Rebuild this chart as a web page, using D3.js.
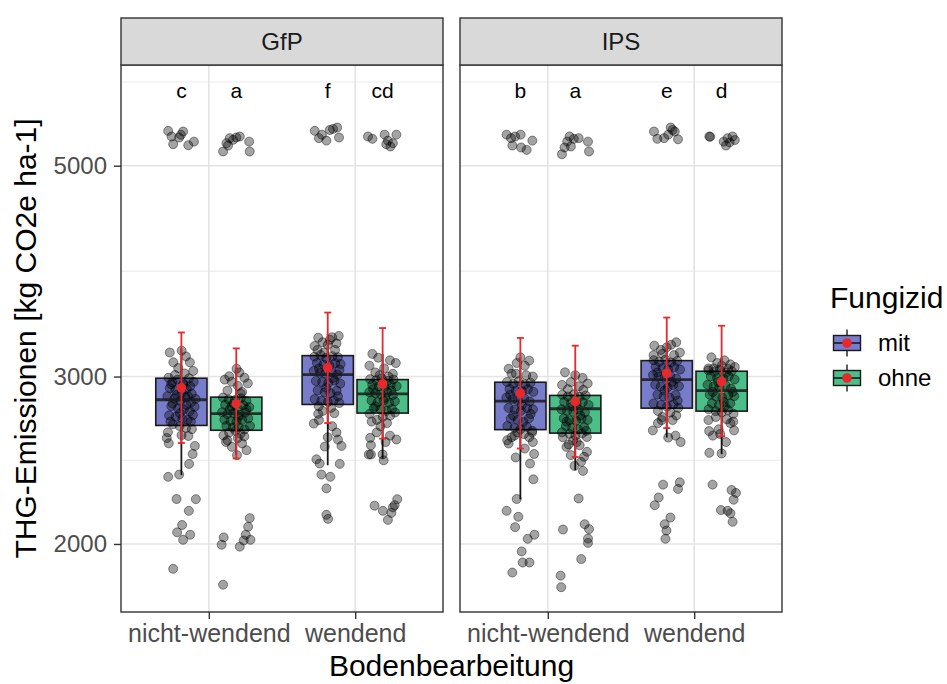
<!DOCTYPE html>
<html><head><meta charset="utf-8">
<script src="https://cdn.jsdelivr.net/npm/d3@7/dist/d3.min.js"></script>
<style>body{margin:0;background:#fff;} text{font-family:"Liberation Sans",Arial,sans-serif;}</style>
</head><body><svg id="chart" width="947" height="684"></svg>
<script>
// ---------- data ----------
const facets = ["GfP", "IPS"];
const tillage = ["nicht-wendend", "wendend"];
const fungicide = ["mit", "ohne"];
const lettersGfP = ["c", "a", "f", "cd"];
const lettersIPS = ["b", "a", "e", "d"];
const yTickValues = [2000, 3000, 5000];
const yBreaks = [2000, 3000, 5000, 7500];
const yDomain = [1696, 6381];
const letterY = 6000;
// group order: GfP/nw/mit, GfP/nw/ohne, GfP/w/mit, GfP/w/ohne, IPS/nw/mit, IPS/nw/ohne, IPS/w/mit, IPS/w/ohne
const q1 =          [2665, 2634, 2804, 2746, 2638, 2616, 2779, 2759];
const median =      [2836, 2742, 3014, 2877, 2826, 2775, 2978, 2900];
const q3 =          [2988, 2854, 3156, 2978, 2959, 2866, 3118, 3039];
const whiskerLow =  [2363, 2480, 2420, 2460, 2228, 2391, 2588, 2486];
const whiskerHigh = [3210, 3068, 3328, 3169, 3143, 3031, 3246, 3143];
const meanVal =     [2919, 2809, 3064, 2948, 2881, 2824, 3024, 2964];
const errLow =      [2554, 2460, 2680, 2581, 2520, 2469, 2648, 2596];
const errHigh =     [3338, 3212, 3503, 3374, 3294, 3233, 3461, 3393];

// jittered observations: [jitter (-1..1), value]
const ptsGfpNwMit = [[-0.9,5440],[-0.67,5366],[-0.56,5267],[-0.15,5353],[0.12,5431],[0.47,5254],[0.86,5300],[-0.03,5389],
[-0.9,2353],[-0.15,2366],[-0.33,2230],[0.99,2229],[0.51,2167],[0.05,2094],[-0.29,2057],[0.12,2020],[0.6,2045],[-0.56,1883],[0.53,2428],[0.77,2487],[0.92,2536],[-0.86,2552],[-1.0,2585],
[-0.79,3180],[0.02,3194],[0.58,3105],[-0.55,3105],[0.31,3150],[-0.22,3062],[0.81,3041],
[-0.88,2991],[-0.62,2958],[-0.27,2977],[0.13,2948],[0.52,2987],[0.84,2962],[-0.79,2917],[-0.41,2903],[0.03,2886],[0.37,2912],[0.71,2878],[-0.96,2861],[-0.48,2843],[-0.08,2829],[0.28,2852],[0.66,2818],[0.97,2842],[-0.69,2793],[-0.23,2778],[0.17,2771],[0.57,2758],[0.91,2788],[-0.84,2731],[-0.37,2722],[0.07,2708],[0.43,2701],[0.79,2733],[-0.58,2672],[-0.12,2661],[0.32,2649],[0.72,2641],[-0.92,2621],[0.01,2603],[0.48,2598],[-0.44,3011],[0.22,3023],
[-0.7,2945],[0.6,2930],[-0.3,2870],[0.45,2860],[-0.6,2810],[0.35,2800],[-0.1,2745],[0.65,2690],[-0.75,2690],[0.15,2940]];
const ptsGfpNwOhne = [[-0.9,5175],[-0.67,5280],[-0.45,5345],[-0.22,5323],[0,5353],[0.24,5366],[0.88,5300],[0.92,5175],[-0.56,5250],
[-0.86,2032],[-1.0,1996],[0.24,1987],[0.65,2045],[0.81,2085],[0.92,2129],[0.97,2020],[-0.9,1812],[0.51,2017],[-0.6,2571],[-0.3,2530],[0.4,2551],[0.1,2585],[0.7,2510],[0.05,2480],
[-0.79,2978],[0.02,3057],[0.21,3030],[-0.48,3002],[0.56,2991],[-0.31,2962],[0.79,2951],[0.11,2933],
[-0.91,2851],[-0.52,2838],[-0.09,2834],[0.31,2846],[0.69,2829],[-0.76,2802],[-0.33,2789],[0.06,2781],[0.47,2799],[0.89,2786],[-0.97,2752],[-0.61,2739],[-0.18,2746],[0.22,2734],[0.62,2751],[-0.81,2702],[-0.39,2694],[0.02,2689],[0.41,2701],[0.82,2711],[-0.68,2661],[-0.24,2651],[0.16,2654],[0.56,2639],[0.94,2662],[-0.49,2619],[0.29,2611],[-0.88,2601],
[-0.6,2900],[0.4,2890],[-0.2,2810],[0.7,2770],[-0.45,2770],[0.15,2720],[-0.05,2630],[0.55,2595],[-0.7,2560],[0.3,2880]];
const ptsGfpWMit = [[-0.89,5440],[-0.6,5345],[-0.4,5390],[-0.09,5313],[0.14,5452],[0.36,5466],[0.64,5484],[0.77,5353],
[-0.77,2455],[-0.55,2430],[0.82,2428],[-0.43,2366],[0.18,2353],[-0.09,2288],[-0.09,2146],[0.02,2125],[0.94,2536],[0.7,2575],[-0.2,2532],[-0.95,2677],[-0.65,2741],[0.3,2660],[0.6,2620],[-0.6,2700],[0.0,2590],
[-0.65,3296],[0.75,3310],[0.15,3280],[-0.35,3260],[0.6,3250],[-0.9,3230],[0.3,3300],[0.0,3240],
[-0.91,3148],[-0.49,3161],[-0.11,3138],[0.32,3152],[0.69,3144],[-0.74,3101],[-0.29,3088],[0.12,3081],[0.51,3099],[0.88,3092],[-0.96,3041],[-0.53,3028],[-0.16,3021],[0.26,3032],[0.66,3014],[-0.81,2968],[-0.38,2961],[0.04,2954],[0.46,2971],[0.86,2949],[-0.69,2902],[-0.21,2888],[0.19,2882],[0.61,2899],[-0.89,2841],[-0.44,2829],[0.01,2821],[0.41,2832],[0.79,2814],[-0.61,2791],[0.24,2781],
[-0.7,3200],[0.5,3200],[-0.25,3180],[0.8,3050],[-0.6,3060],[0.35,2990],[-0.1,2920],[0.7,2860],[-0.35,2760],[0.45,2745]];
const ptsGfpWOhne = [[-1.0,5366],[-0.7,5336],[0.14,5390],[0.36,5313],[0.7,5280],[0.94,5390],[0.53,5238],[0.25,5267],
[-0.55,2194],[0.02,2167],[0.36,2120],[0.6,2156],[0.82,2197],[1.0,2229],[0.7,2185],[-0.94,2484],[-0.8,2484],[0.07,2449],[0,2484],[0.94,2576],[-0.8,2540],[-0.85,2586],[-0.4,2620],[0.5,2600],[0.2,2560],
[-0.7,3169],[-0.3,3140],[0.5,3120],[0.9,3100],[-0.9,3080],[0.1,3060],[-0.5,3030],[0.7,3020],
[-0.86,2981],[-0.44,2974],[-0.06,2986],[0.36,2968],[0.74,2979],[-0.71,2941],[-0.26,2929],[0.14,2926],[0.56,2939],[0.96,2931],[-0.91,2889],[-0.49,2881],[-0.11,2874],[0.31,2886],[0.71,2869],[-0.76,2831],[-0.34,2819],[0.06,2829],[0.44,2816],[0.84,2826],[-0.61,2779],[-0.14,2771],[0.26,2761],[0.64,2774],[-0.89,2741],[0.01,2721],[0.51,2729],[-0.39,2701],
[-0.2,3010],[0.4,3000],[-0.65,2910],[0.6,2900],[0.2,2850],[-0.5,2790],[0.85,2750],[-0.75,2690],[0.3,2680],[-0.15,2660]];
const ptsIpsNwMit = [[-0.94,5390],[-0.64,5345],[-0.36,5366],[0.02,5390],[-0.55,5250],[0.05,5225],[0.43,5195],[0.82,5313],
[-0.32,2466],[0.94,2487],[0.66,2430],[0.89,2339],[-0.25,2230],[-0.94,2167],[-0.14,2136],[-0.36,2083],[0.5,2025],[0.96,2045],[0.09,1964],[0.16,1912],[0.62,1912],[-0.55,1866],[-0.8,2551],[-0.9,2571],[0.85,2560],[0.3,2520],[-0.4,2600],[0.6,2590],
[-0.8,3057],[0.6,3118],[0.0,3143],[-0.6,3020],[0.3,3080],[0.85,3000],[-0.25,3100],
[-0.91,2961],[-0.49,2948],[-0.11,2966],[0.31,2944],[0.69,2956],[-0.74,2911],[-0.31,2898],[0.11,2896],[0.51,2909],[0.89,2891],[-0.96,2851],[-0.54,2839],[-0.16,2831],[0.26,2846],[0.64,2824],[-0.81,2781],[-0.39,2769],[0.04,2761],[0.46,2779],[0.86,2771],[-0.66,2709],[-0.19,2701],[0.21,2689],[0.59,2711],[-0.89,2661],[-0.41,2649],[0.01,2641],[0.44,2656],[0.81,2631],
[-0.3,3020],[0.4,3010],[-0.7,2870],[0.1,2800],[0.7,2740],[-0.5,2730],[-0.2,2620],[0.25,2610],[0.8,2620],[-0.6,2590]];
const ptsIpsNwOhne = [[-0.91,5140],[-0.73,5225],[-0.55,5301],[-0.39,5366],[-0.1,5336],[0.23,5345],[0.87,5300],[0.94,5175],[-0.3,5238],
[0.23,2233],[-0.84,2071],[0.64,2098],[0.94,2073],[0.87,2026],[0.87,2005],[0.41,1928],[-1.0,1852],[-0.96,1801],[0.53,2387],[-0.05,2416],[0.4,2440],[-0.6,2530],[0.8,2500],[-0.3,2480],[0.1,2560],[-0.85,2590],
[-0.7,3031],[0.0,3010],[0.5,2990],[-0.3,2960],[0.85,2950],[-0.9,2940],[0.25,2930],
[-0.89,2871],[-0.51,2859],[-0.09,2874],[0.29,2856],[0.71,2866],[-0.76,2821],[-0.29,2814],[0.09,2806],[0.51,2819],[0.91,2801],[-0.94,2771],[-0.56,2761],[-0.14,2754],[0.24,2769],[0.66,2751],[-0.79,2711],[-0.41,2699],[0.06,2696],[0.44,2709],[0.84,2701],[-0.64,2661],[-0.21,2649],[0.19,2641],[0.61,2654],[-0.91,2621],[-0.39,2611],[0.01,2601],[0.46,2614],[0.79,2591],
[-0.5,2910],[0.55,2905],[-0.2,2790],[0.35,2730],[-0.6,2690],[0.75,2630],[-0.15,2570],[0.3,2540],[-0.45,2545],[0.6,2470]];
const ptsIpsWMit = [[-0.87,5431],[-0.64,5336],[-0.18,5345],[0.27,5484],[0.55,5431],[0.77,5330],[0.1,5390],[0.4,5452],
[-0.25,2309],[0.89,2322],[0.77,2285],[-0.55,2238],[-0.82,2197],[0.25,2132],[-0.14,2098],[-0.02,2066],[-0.09,2025],[-0.95,2633],[0.95,2560],[0.6,2600],[0.1,2588],[-0.6,2680],[0.4,2700],[-0.3,2720],
[-0.85,3233],[0.65,3260],[0.3,3240],[-0.4,3200],[0.9,3180],[-0.9,3160],[0.0,3220],
[-0.89,3121],[-0.51,3109],[-0.09,3126],[0.29,3104],[0.71,3116],[-0.76,3071],[-0.29,3061],[0.09,3054],[0.51,3069],[0.91,3051],[-0.94,3011],[-0.56,2999],[-0.14,2991],[0.24,3006],[0.66,2984],[-0.79,2941],[-0.41,2929],[0.06,2921],[0.44,2939],[0.84,2931],[-0.64,2871],[-0.21,2859],[0.19,2851],[0.61,2869],[-0.91,2811],[-0.39,2801],[0.01,2789],[0.46,2806],[0.79,2781],
[-0.3,3170],[0.5,3160],[-0.65,3030],[0.35,2960],[-0.15,2900],[0.75,2830],[-0.6,2760],[0.25,2750],[-0.35,2700],[0.65,2730]];
const ptsIpsWOhne = [[-0.84,5366],[-0.78,5362],[0.14,5300],[0.41,5345],[0.75,5366],[0.3,5250],[0.9,5320],[0.55,5290],
[-0.62,2309],[0.68,2279],[0.98,2263],[0.82,2226],[-0.05,2171],[0.41,2167],[0.6,2154],[0.75,2110],[0.0,2490],[-0.84,2494],[-0.85,2629],[0.85,2633],[-0.6,2600],[0.3,2560],[-0.2,2640],[0.6,2680],[-0.9,2700],
[-0.7,3143],[0.2,3120],[-0.3,3100],[0.6,3090],[0.9,3070],[-0.9,3060],[0.0,3080],
[-0.91,3046],[-0.49,3034],[-0.11,3051],[0.31,3029],[0.69,3041],[-0.74,3001],[-0.31,2989],[0.11,2986],[0.49,3001],[0.89,2979],[-0.96,2941],[-0.54,2929],[-0.16,2921],[0.26,2936],[0.64,2914],[-0.81,2871],[-0.39,2859],[0.04,2851],[0.46,2869],[0.86,2861],[-0.66,2811],[-0.19,2799],[0.21,2791],[0.59,2811],[-0.89,2771],[-0.41,2759],[0.01,2751],[0.44,2766],[0.81,2741],
[-0.55,3060],[0.45,3055],[-0.25,2960],[0.75,2890],[-0.6,2890],[0.15,2820],[-0.4,2720],[0.35,2705],[0.8,2690],[-0.1,2610]];

const groupPoints = [ptsGfpNwMit, ptsGfpNwOhne, ptsGfpWMit, ptsGfpWOhne, ptsIpsNwMit, ptsIpsNwOhne, ptsIpsWMit, ptsIpsWOhne];
const facetLetters = [lettersGfP, lettersIPS];

// ---------- layout ----------
const panelX = [121, 460], panelW = 322, panelTop = 65, panelBottom = 612, stripTop = 18;
const fillCol = { mit: "#787DCB", ohne: "#4CBE87" };
const meanCol = "#E8282B";
const svg = d3.select("#chart");

const x = d3.scalePoint().domain(tillage).range([0, panelW]).padding(0.6);
const step = x.step();
const y = d3.scaleLog().domain(yDomain).range([panelBottom, panelTop]);
const minorBreaks = d3.pairs(yBreaks).map(([a, b]) => Math.sqrt(a * b)).filter(v => v > yDomain[0] && v < yDomain[1]);
const majorBreaks = yBreaks.filter(v => v > yDomain[0] && v < yDomain[1]);

facets.forEach((f, fi) => {
  const g = svg.append("g").attr("transform", `translate(${panelX[fi]},0)`);
  g.append("rect").attr("x", 0).attr("y", panelTop).attr("width", panelW).attr("height", panelBottom - panelTop).attr("fill", "#fff");
  g.selectAll(".minor").data(minorBreaks).join("line")
    .attr("x1", 0).attr("x2", panelW).attr("y1", d => y(d)).attr("y2", d => y(d))
    .attr("stroke", "#EBEBEB").attr("stroke-width", 1.1);
  g.selectAll(".major").data(majorBreaks).join("line")
    .attr("x1", 0).attr("x2", panelW).attr("y1", d => y(d)).attr("y2", d => y(d))
    .attr("stroke", "#E4E4E4").attr("stroke-width", 1.6);
  g.selectAll(".xgrid").data(tillage).join("line")
    .attr("x1", d => x(d)).attr("x2", d => x(d)).attr("y1", panelTop).attr("y2", panelBottom)
    .attr("stroke", "#E4E4E4").attr("stroke-width", 1.6);

  const groups = [];
  tillage.forEach((t, ti) => fungicide.forEach((fu, ui) => {
    groups.push({ gi: fi * 4 + ti * 2 + ui, cx: x(t) + (ui === 0 ? -1 : 1) * 0.1875 * step, fu, li: ti * 2 + ui });
  }));
  const bw = 0.35 * step;
  // boxplots
  groups.forEach(({ gi, cx, fu }) => {
    g.append("line").attr("x1", cx).attr("x2", cx).attr("y1", y(whiskerHigh[gi])).attr("y2", y(q3[gi])).attr("stroke", "#1a1a1a").attr("stroke-width", 1.8);
    g.append("line").attr("x1", cx).attr("x2", cx).attr("y1", y(q1[gi])).attr("y2", y(whiskerLow[gi])).attr("stroke", "#1a1a1a").attr("stroke-width", 1.8);
    g.append("rect").attr("x", cx - bw / 2).attr("y", y(q3[gi])).attr("width", bw).attr("height", y(q1[gi]) - y(q3[gi]))
      .attr("fill", fillCol[fu]).attr("stroke", "#1a1a1a").attr("stroke-width", 1.6);
  });
  // jittered points
  groups.forEach(({ gi, cx }) => {
    g.append("g").selectAll("circle").data(groupPoints[gi]).join("circle")
      .attr("cx", d => cx + d[0] * 0.1 * step).attr("cy", d => y(d[1])).attr("r", 4.5)
      .attr("fill", "#000").attr("fill-opacity", 0.36)
      .attr("stroke", "#000").attr("stroke-opacity", 0.42).attr("stroke-width", 1);
  });
  // medians on top
  groups.forEach(({ gi, cx }) => {
    g.append("line").attr("x1", cx - bw / 2).attr("x2", cx + bw / 2).attr("y1", y(median[gi])).attr("y2", y(median[gi]))
      .attr("stroke", "#1a1a1a").attr("stroke-width", 2.8).attr("stroke-opacity", 0.85);
  });
  // mean ± error
  groups.forEach(({ gi, cx }) => {
    g.append("line").attr("x1", cx).attr("x2", cx).attr("y1", y(errHigh[gi])).attr("y2", y(errLow[gi])).attr("stroke", meanCol).attr("stroke-width", 1.8);
    [errHigh[gi], errLow[gi]].forEach(v => g.append("line").attr("x1", cx - 3.5).attr("x2", cx + 3.5).attr("y1", y(v)).attr("y2", y(v)).attr("stroke", meanCol).attr("stroke-width", 1.8));
    g.append("circle").attr("cx", cx).attr("cy", y(meanVal[gi])).attr("r", 4.8).attr("fill", meanCol);
  });
  // letters
  groups.forEach(({ cx, li }) => {
    g.append("text").attr("x", cx).attr("y", y(letterY)).attr("dy", "0.35em").attr("text-anchor", "middle")
      .attr("font-size", 21).attr("fill", "#000").text(facetLetters[fi][li]);
  });
  // border
  g.append("rect").attr("x", 0).attr("y", panelTop).attr("width", panelW).attr("height", panelBottom - panelTop)
    .attr("fill", "none").attr("stroke", "#333").attr("stroke-width", 1.4);
  // strip
  g.append("rect").attr("x", 0).attr("y", stripTop).attr("width", panelW).attr("height", panelTop - stripTop)
    .attr("fill", "#D9D9D9").attr("stroke", "#333").attr("stroke-width", 1.4);
  g.append("text").attr("x", panelW / 2).attr("y", (stripTop + panelTop) / 2).attr("dy", "0.35em")
    .attr("text-anchor", "middle").attr("font-size", 24).attr("fill", "#1A1A1A").text(f);
  // x axis
  const xa = g.append("g").attr("transform", `translate(0,${panelBottom})`)
    .call(d3.axisBottom(x).tickSize(7).tickPadding(5));
  xa.select(".domain").remove();
  xa.selectAll(".tick line").attr("stroke", "#333").attr("stroke-width", 1.4);
  xa.selectAll(".tick text").attr("font-size", 25).attr("fill", "#4D4D4D").attr("font-family", "Liberation Sans, Arial, sans-serif");
});

// y axis
const ya = svg.append("g").attr("transform", `translate(${panelX[0]},0)`)
  .call(d3.axisLeft(y).tickValues(yTickValues).tickFormat(d3.format("d")).tickSize(7).tickPadding(7));
ya.select(".domain").remove();
ya.selectAll(".tick line").attr("stroke", "#333").attr("stroke-width", 1.4);
ya.selectAll(".tick text").attr("font-size", 24).attr("fill", "#4D4D4D").attr("font-family", "Liberation Sans, Arial, sans-serif");

// axis titles
svg.append("text").attr("transform", `translate(36,${(panelTop + panelBottom) / 2}) rotate(-90)`)
  .attr("text-anchor", "middle").attr("font-size", 30).attr("fill", "#000").text("THG-Emissionen [kg CO2e ha-1]");
svg.append("text").attr("x", (panelX[0] + panelX[1] + panelW) / 2).attr("y", 676)
  .attr("text-anchor", "middle").attr("font-size", 30).attr("fill", "#000").text("Bodenbearbeitung");

// legend
const lg = svg.append("g").attr("transform", "translate(830,0)");
lg.append("text").attr("x", 0).attr("y", 308).attr("font-size", 30).attr("fill", "#000").text("Fungizid");
fungicide.forEach((fu, i) => {
  const cy = 343 + i * 35, kx = 17;
  lg.append("line").attr("x1", kx).attr("x2", kx).attr("y1", cy - 13.5).attr("y2", cy + 13.5).attr("stroke", "#1a1a1a").attr("stroke-width", 1.4);
  lg.append("rect").attr("x", kx - 13.5).attr("y", cy - 7.5).attr("width", 27).attr("height", 15)
    .attr("fill", fillCol[fu]).attr("stroke", "#1a1a1a").attr("stroke-width", 1.4);
  lg.append("line").attr("x1", kx - 13.5).attr("x2", kx + 13.5).attr("y1", cy).attr("y2", cy).attr("stroke", "#1a1a1a").attr("stroke-width", 1.6);
  lg.append("circle").attr("cx", kx).attr("cy", cy).attr("r", 4.8).attr("fill", meanCol);
  lg.append("text").attr("x", 48).attr("y", cy).attr("dy", "0.35em").attr("font-size", 24).attr("fill", "#000").text(fu);
});
</script></body></html>
